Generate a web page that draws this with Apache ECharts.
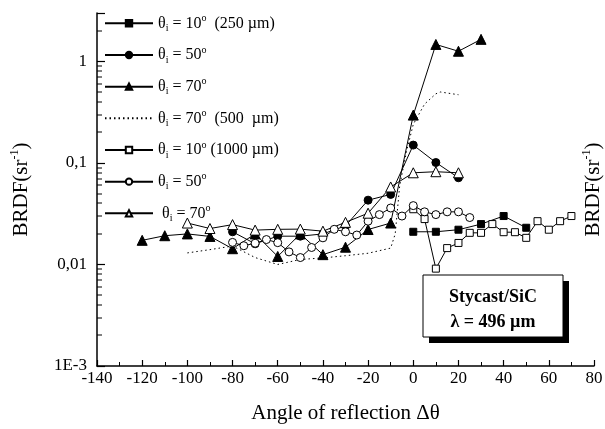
<!DOCTYPE html>
<html><head><meta charset="utf-8">
<script src="https://cdn.jsdelivr.net/npm/echarts@6/dist/echarts.min.js"></script>
<style>html,body{margin:0;padding:0;background:#fff}#c{width:605px;height:429px}</style>
</head><body><div id="c"></div>
<script>
// ---- data ----
const xA = [0, 10, 20, 30, 40, 50];
const yA = [0.021, 0.021, 0.022, 0.025, 0.030, 0.023];

const xB = [-80, -70, -60, -50, -40, -30, -20, -10, 0, 10, 20];
const yB = [0.021, 0.016, 0.019, 0.019, 0.020, 0.024, 0.043, 0.049, 0.150, 0.101, 0.0715];

const xC = [-120, -110, -100, -90, -80, -70, -60, -50, -40, -30, -20, -10, 0, 10, 20, 30];
const yC = [0.0173, 0.0192, 0.0200, 0.0189, 0.0143, 0.020, 0.012, 0.020, 0.0125, 0.0148, 0.0221, 0.0256, 0.296, 1.47, 1.26, 1.65];

const xD = [-100, -90, -80, -70, -60, -50, -40, -30, -20, -10, -8, -6, -3, 0, 5, 10, 12, 20];
const yD = [0.013, 0.014, 0.0152, 0.0117, 0.010, 0.0112, 0.0116, 0.0122, 0.0129, 0.0145, 0.02, 0.06, 0.13, 0.24, 0.38, 0.48, 0.50, 0.47];

const xE = [0, 5, 10, 15, 20, 25, 30, 35, 40, 45, 50, 55, 60, 65, 70];
const yE = [0.035, 0.028, 0.0091, 0.0145, 0.0163, 0.0205, 0.0205, 0.025, 0.0208, 0.0208, 0.0183, 0.0267, 0.022, 0.0267, 0.030];

const xF = [-80, -75, -70, -65, -60, -55, -50, -45, -40, -35, -30, -25, -20, -15, -10, -5, 0, 5, 10, 15, 20, 25];
const yF = [0.0165, 0.0153, 0.0162, 0.0176, 0.0164, 0.0133, 0.0117, 0.0147, 0.0183, 0.0222, 0.021, 0.0195, 0.0267, 0.031, 0.036, 0.030, 0.038, 0.033, 0.031, 0.033, 0.033, 0.029];

const xG = [-100, -90, -80, -70, -60, -50, -40, -30, -20, -10, 0, 10, 20];
const yG = [0.0256, 0.0226, 0.0247, 0.0218, 0.0222, 0.0223, 0.0213, 0.026, 0.032, 0.058, 0.080, 0.082, 0.080];

const seriesNames = ['θi = 10° (250 µm)', 'θi = 50° (250 µm)', 'θi = 70° (250 µm)', 'θi = 70° (500 µm)',
                     'θi = 10° (1000 µm)', 'θi = 50° (1000 µm)', 'θi = 70° (1000 µm)'];
const legendAngles = ['10', '50', '70', '70', '10', '50', '70'];
const legendSuffix = ['  (250 µm)', '', '', '  (500  µm)', ' (1000 µm)', '', ''];

const yTickValues = [0.001, 0.01, 0.1, 1];
const yTickLabels = ['1E-3', '0,01', '0,1', '1'];
const yMinorTicks = [0.002, 0.003, 0.004, 0.005, 0.006, 0.007, 0.008, 0.009,
                     0.02, 0.03, 0.04, 0.05, 0.06, 0.07, 0.08, 0.09,
                     0.2, 0.3, 0.4, 0.5, 0.6, 0.7, 0.8, 0.9, 2];

const FONT = '"Liberation Serif", "Times New Roman", serif';
const pairs = (xs, ys) => xs.map((x, i) => [x, ys[i]]);

function lineSeries(name, xs, ys, symbol, size, filled, dotted) {
  return {
    name, type: 'line', data: pairs(xs, ys),
    symbol: symbol, symbolSize: size, showAllSymbol: true,
    lineStyle: { color: '#000', width: 1, type: dotted ? [1.5, 3] : 'solid' },
    itemStyle: { color: filled ? '#000' : '#fff', borderColor: '#000', borderWidth: 1 },
    emphasis: { disabled: true }, z: 3
  };
}

const series = [
  lineSeries(seriesNames[0], xA, yA, 'rect', 7, true),
  lineSeries(seriesNames[1], xB, yB, 'circle', 8, true),
  lineSeries(seriesNames[2], xC, yC, 'triangle', 10, true),
  lineSeries(seriesNames[3], xD, yD, 'none', 0, true, true),
  lineSeries(seriesNames[4], xE, yE, 'rect', 7, false),
  lineSeries(seriesNames[5], xF, yF, 'circle', 8, false),
  lineSeries(seriesNames[6], xG, yG, 'triangle', 10, false),
  {
    // minor ticks of the logarithmic axis (2..9 of each decade)
    name: '_minor', type: 'custom', silent: true, z: 20, clip: false,
    coordinateSystem: 'cartesian2d', xAxisIndex: 0, yAxisIndex: 0,
    encode: { x: 0, y: 1 },
    data: yMinorTicks.map(v => [-140, v]),
    renderItem: (params, api) => {
      const p = api.coord([api.value(0), api.value(1)]);
      return { type: 'rect', shape: { x: p[0], y: Math.round(p[1]) - 0.5, width: 5, height: 1 },
               style: { fill: '#000' } };
    }
  }
];

const richLegend = {
  t: { fontFamily: FONT, fontSize: 16, lineHeight: 20, color: '#000' },
  sub: { fontFamily: FONT, fontSize: 10, lineHeight: 10, verticalAlign: 'bottom', color: '#000' },
  sup: { fontFamily: FONT, fontSize: 10, lineHeight: 10, verticalAlign: 'top', color: '#000' }
};

const legends = seriesNames.map((n, i) => ({
  data: [i === 3 ? { name: n, itemStyle: { color: 'rgba(0,0,0,0)', borderColor: 'rgba(0,0,0,0)', borderWidth: 0 } } : n],
  left: 104, top: 13.3 + 31.67 * i, orient: 'vertical', padding: 0,
  itemWidth: 48, itemHeight: 8, itemGap: 0, selectedMode: false,
  formatter: () => '{t|' + (i === 6 ? ' ' : '') + 'θ}{sub|i}{t| = ' + legendAngles[i] + '}{sup|o}' +
                   (legendSuffix[i] ? '{t|' + legendSuffix[i] + '}' : ''),
  textStyle: { rich: richLegend }
}));

const nameRich = {
  a: { fontFamily: FONT, fontSize: 21, lineHeight: 24, color: '#000' },
  s: { fontFamily: FONT, fontSize: 12, lineHeight: 12, verticalAlign: 'top', color: '#000' }
};

const chart = echarts.init(document.getElementById('c'), null, { renderer: 'canvas' });
chart.setOption({
  animation: false,
  backgroundColor: '#fff',
  grid: { left: 97, right: 11, top: 13, bottom: 63, containLabel: false, outerBoundsMode: 'none' },
  legend: legends,
  xAxis: {
    type: 'value', min: -140, max: 80, interval: 20,
    axisLine: { onZero: false, lineStyle: { color: '#000', width: 1.5 } },
    axisTick: { inside: true, length: 6, lineStyle: { color: '#000', width: 1.2 } },
    minorTick: { show: true, splitNumber: 2, length: 4, lineStyle: { color: '#000', width: 1 } },
    axisLabel: { color: '#000', fontFamily: FONT, fontSize: 17, margin: 4 },
    splitLine: { show: false }, minorSplitLine: { show: false },
    name: 'Angle of reflection Δθ', nameLocation: 'middle', nameGap: 37,
    nameTextStyle: { color: '#000', fontFamily: FONT, fontSize: 21 }
  },
  yAxis: [{
    type: 'log', logBase: 10, min: 0.001, max: 3,
    axisLine: { show: true, onZero: false, lineStyle: { color: '#000', width: 1.5 } },
    axisTick: { inside: true, length: 8, lineStyle: { color: '#000', width: 1.2 } },
    axisLabel: {
      color: '#000', fontFamily: FONT, fontSize: 17, margin: 10,
      formatter: v => {
        for (let k = 0; k < yTickValues.length; k++) {
          if (Math.abs(Math.log10(v) - Math.log10(yTickValues[k])) < 1e-6) return yTickLabels[k];
        }
        return '';
      }
    },
    splitLine: { show: false },
    name: '{a|BRDF(sr}{s|-1}{a|)}', nameLocation: 'middle', nameGap: 64, nameRotate: 90,
    nameTextStyle: { rich: nameRich }
  }, {
    type: 'log', logBase: 10, min: 0.001, max: 3, position: 'right',
    axisLine: { show: false }, axisTick: { show: false }, axisLabel: { show: false },
    splitLine: { show: false },
    name: '{a|BRDF(sr}{s|-1}{a|)}', nameLocation: 'middle', nameGap: -13, nameRotate: 90,
    nameTextStyle: { rich: nameRich }
  }],
  graphic: [
    { type: 'rect', shape: { x: 429, y: 281, width: 140, height: 62 }, style: { fill: '#000' }, z: 10 },
    { type: 'rect', shape: { x: 423, y: 275, width: 140, height: 62 }, style: { fill: '#fff', stroke: '#000', lineWidth: 1 }, z: 11 },
    { type: 'text', x: 493, y: 297, z: 12,
      style: { text: 'Stycast/SiC', font: 'bold 18px "Liberation Serif"', fill: '#000', textAlign: 'center', textVerticalAlign: 'middle' } },
    { type: 'text', x: 493, y: 322, z: 12,
      style: { text: 'λ = 496 µm', font: 'bold 18px "Liberation Serif"', fill: '#000', textAlign: 'center', textVerticalAlign: 'middle' } }
  ],
  series: series
});
</script>
</body></html>
